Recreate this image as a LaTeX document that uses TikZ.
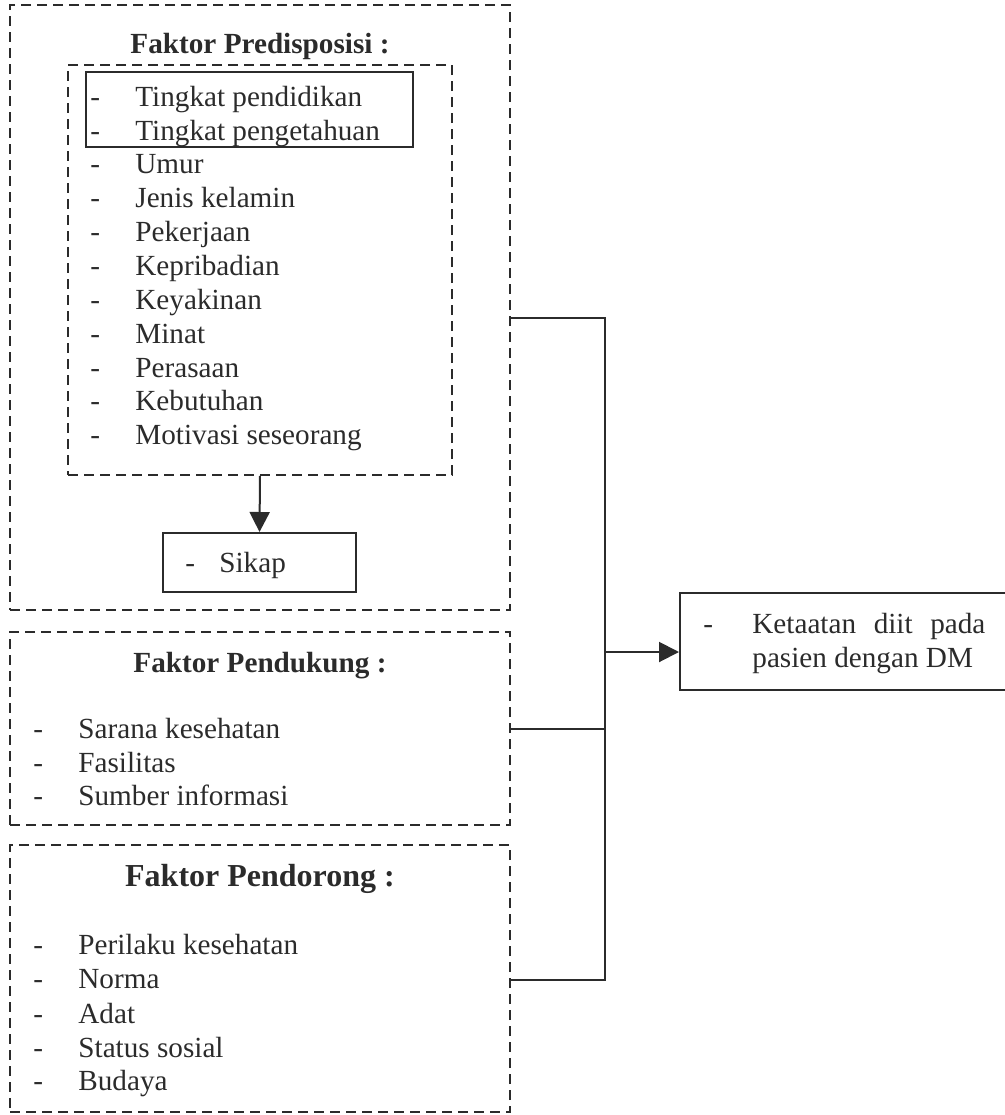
\documentclass[tikz,border=0pt]{standalone}
\usepackage{fontspec}
\setmainfont{Liberation Serif}
\usetikzlibrary{arrows.meta,fit}

\definecolor{ink}{HTML}{2B2B2B}
\newcommand{\itemdash}{\makebox[22.5pt][l]{-}}

\tikzset{
	dashbox/.style={draw=ink, line width=0.8pt, dash pattern=on 5pt off 3pt, inner sep=0pt},
	solidbox/.style={draw=ink, line width=1pt, inner sep=0pt},
	item/.style={anchor=base west, inner sep=0pt, text=ink, font=\fontsize{14.6}{17}\selectfont},
	heading/.style={anchor=base, inner sep=0pt, text=ink, font=\fontsize{14.6}{17}\selectfont\bfseries},
	link/.style={draw=ink, line width=1pt},
	arrow/.style={link, -{Triangle[length=10pt,width=10pt]}},
}

\begin{document}
\begin{tikzpicture}[x=0.5pt,y=-0.5pt]
	\clip (0,0) rectangle (1005,1115);

	% faktor predisposisi
	\node[dashbox, fit={(10,5) (510,610)}] (pred) {};
	\node[heading] (predtitle) at (260,53) {Faktor Predisposisi :};
	\node[dashbox, fit={(68,65) (452,475)}] (predin) {};
	\node[solidbox, fit={(86,72) (413,147)}] (tingkat) {};
	\node[item] (p1) at (90,106) {\itemdash Tingkat pendidikan};
	\node[item] (p2) at (90,140) {\itemdash Tingkat pengetahuan};
	\node[item] (p3) at (90,173) {\itemdash Umur};
	\node[item] (p4) at (90,207) {\itemdash Jenis kelamin};
	\node[item] (p5) at (90,241) {\itemdash Pekerjaan};
	\node[item] (p6) at (90,275) {\itemdash Kepribadian};
	\node[item] (p7) at (90,309) {\itemdash Keyakinan};
	\node[item] (p8) at (90,343) {\itemdash Minat};
	\node[item] (p9) at (90,377) {\itemdash Perasaan};
	\node[item] (p10) at (90,410) {\itemdash Kebutuhan};
	\node[item] (p11) at (90,444) {\itemdash Motivasi seseorang};

	\node[solidbox, fit={(163,533) (356,592)}] (sikap) {};
	\node[item] (sikaptext) at (185,572) {\makebox[17pt][l]{-}Sikap};
	\draw[arrow] (predin.south) -- (sikap.north);

	% faktor pendukung
	\node[dashbox, fit={(10,632) (510,825)}] (dukung) {};
	\node[heading] (duktitle) at (260,672) {Faktor Pendukung :};
	\node[item] (d1) at (33,738) {\itemdash Sarana kesehatan};
	\node[item] (d2) at (33,772) {\itemdash Fasilitas};
	\node[item] (d3) at (33,805) {\itemdash Sumber informasi};

	% faktor pendorong
	\node[dashbox, fit={(10,845) (510,1112)}] (dorong) {};
	\node[heading, font=\fontsize{16}{19}\selectfont\bfseries] (dortitle) at (260,886) {Faktor Pendorong :};
	\node[item] (r1) at (33,954) {\itemdash Perilaku kesehatan};
	\node[item] (r2) at (33,988) {\itemdash Norma};
	\node[item] (r3) at (33,1023) {\itemdash Adat};
	\node[item] (r4) at (33,1057) {\itemdash Status sosial};
	\node[item] (r5) at (33,1090) {\itemdash Budaya};

	% ketaatan
	\node[solidbox, fit={(680,593) (1020,690)}] (taat) {};
	\node[item] (t1) at (703,633) {\makebox[24.5pt][l]{-}\makebox[116.5pt][s]{Ketaatan\hfil diit\hfil pada}};
	\node[item] (t2) at (752,667) {pasien dengan DM};

	% connectors
	\coordinate (jtop) at (605,318);
	\coordinate (jdk) at (605,729);
	\coordinate (jbot) at (605,980);
	\coordinate (jmid) at (605,652);
	\draw[link] (pred.east |- jtop) -- (jtop) -- (jbot) -- (dorong.east |- jbot);
	\draw[link] (dukung.east |- jdk) -- (jdk);
	\draw[arrow] (jmid) -- (taat.west |- jmid);
\end{tikzpicture}
\end{document}
